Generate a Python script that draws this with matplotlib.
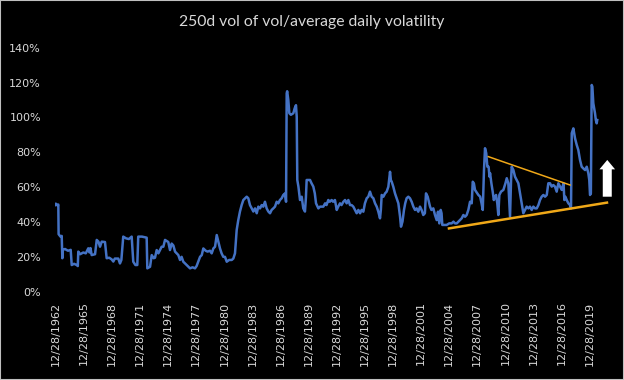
import matplotlib
matplotlib.use('Agg')
import matplotlib.pyplot as plt
from matplotlib.patches import FancyArrow, Rectangle

# series: x in decimal years, y in percent
years = [1962.95, 1963.0, 1963.2, 1963.27, 1963.3, 1963.5, 1963.63, 1963.7, 1963.75, 1963.98,
         1964.3, 1964.59, 1964.7, 1964.95, 1965.23, 1965.35, 1965.4, 1965.6, 1965.94, 1966.2,
         1966.47, 1966.6, 1966.7, 1966.83, 1967.19, 1967.37, 1967.55, 1967.72, 1967.9, 1968.25,
         1968.43, 1968.7, 1968.97, 1969.14, 1969.3, 1969.67, 1969.85, 1970.0, 1970.2, 1970.5,
         1970.8, 1971.1, 1971.27, 1971.5, 1971.7, 1971.8, 1972.2, 1972.7, 1972.77, 1973.06,
         1973.24, 1973.45, 1973.59, 1973.77, 1973.95, 1974.12, 1974.3, 1974.48, 1974.66, 1975.01,
         1975.19, 1975.37, 1975.55, 1975.73, 1976.08, 1976.26, 1976.43, 1976.61, 1976.97, 1977.33,
         1977.6, 1977.86, 1978.03, 1978.21, 1978.4, 1978.58, 1978.75, 1979.0, 1979.2, 1979.46,
         1979.64, 1979.82, 1980.0, 1980.18, 1980.35, 1980.53, 1980.7, 1980.88, 1981.06, 1981.25,
         1981.5, 1981.78, 1981.95, 1982.13, 1982.31, 1982.48, 1982.66, 1982.84, 1983.02, 1983.38,
         1983.55, 1983.73, 1983.91, 1984.09, 1984.27, 1984.45, 1984.62, 1984.8, 1984.98, 1985.15,
         1985.33, 1985.51, 1985.69, 1985.87, 1986.04, 1986.22, 1986.4, 1986.58, 1986.75, 1986.93,
         1987.11, 1987.29, 1987.47, 1987.58, 1987.65, 1987.7, 1987.82, 1987.93, 1988.1, 1988.36,
         1988.5, 1988.64, 1988.72, 1988.78, 1988.9, 1989.07, 1989.25, 1989.42, 1989.6, 1989.7,
         1989.78, 1990.14, 1990.3, 1990.49, 1990.65, 1990.78, 1991.03, 1991.21, 1991.4, 1991.56,
         1991.75, 1991.9, 1992.09, 1992.25, 1992.45, 1992.6, 1992.8, 1992.99, 1993.15, 1993.34,
         1993.5, 1993.7, 1993.88, 1994.05, 1994.23, 1994.41, 1994.58, 1994.76, 1994.94, 1995.12,
         1995.3, 1995.48, 1995.65, 1995.83, 1996.0, 1996.19, 1996.36, 1996.54, 1996.72, 1996.9,
         1997.08, 1997.26, 1997.43, 1997.61, 1997.7, 1997.79, 1997.97, 1998.15, 1998.32, 1998.5,
         1998.68, 1998.77, 1998.86, 1999.03, 1999.21, 1999.39, 1999.57, 1999.75, 1999.85, 2000.01,
         2000.17, 2000.3, 2000.45, 2000.63, 2000.81, 2000.99, 2001.17, 2001.35, 2001.52, 2001.7,
         2001.88, 2002.05, 2002.23, 2002.4, 2002.52, 2002.7, 2002.95, 2003.1, 2003.3, 2003.48,
         2003.66, 2003.8, 2003.94, 2004.09, 2004.18, 2004.26, 2004.73, 2005.0, 2005.26, 2005.45,
         2005.62, 2005.8, 2005.98, 2006.15, 2006.33, 2006.51, 2006.69, 2006.86, 2007.04, 2007.22,
         2007.4, 2007.51, 2007.63, 2007.75, 2008.11, 2008.3, 2008.45, 2008.58, 2008.71, 2008.82,
         2008.95, 2009.07, 2009.2, 2009.3, 2009.36, 2009.5, 2009.64, 2009.76, 2009.89, 2010.0,
         2010.13, 2010.24, 2010.35, 2010.53, 2010.78, 2011.0, 2011.14, 2011.31, 2011.49, 2011.6,
         2011.67, 2011.85, 2012.02, 2012.2, 2012.38, 2012.56, 2012.74, 2012.91, 2013.09, 2013.27,
         2013.45, 2013.62, 2013.8, 2013.98, 2014.16, 2014.34, 2014.52, 2014.69, 2014.87, 2015.05,
         2015.23, 2015.41, 2015.58, 2015.76, 2015.94, 2016.11, 2016.29, 2016.47, 2016.65, 2016.83,
         2017.01, 2017.2, 2017.29, 2017.4, 2017.54, 2017.72, 2017.9, 2018.0, 2018.08, 2018.25,
         2018.43, 2018.61, 2018.78, 2018.96, 2019.14, 2019.32, 2019.5, 2019.68, 2019.85, 2019.95,
         2020.03, 2020.12, 2020.21, 2020.28, 2020.38, 2020.56, 2020.65, 2020.74, 2020.8]
values = [49.7, 50.5, 49.5, 50, 33, 31.6, 32, 19.2, 24, 24.5,
          23.5, 24, 15.3, 16, 15.3, 14.7, 23, 21.5, 22.5, 22,
          24.9, 22.5, 25, 21, 21.5, 29.7, 28.7, 25.8, 28.7, 28.5,
          19.2, 19.5, 18.5, 17.3, 19, 19, 16.2, 18.2, 31.6, 30.6,
          30.2, 31.6, 17.2, 15.3, 15.3, 31.6, 31.6, 31, 13.4, 14.3,
          21, 19.2, 19.5, 23.9, 22, 23.9, 25.8, 25.8, 29.7, 28.5,
          23.9, 27.6, 26.5, 23, 21, 18.2, 20, 17.2, 15.3, 13.4,
          14, 13.4, 14.7, 17.2, 20, 21, 24.8, 23.5, 23, 23.5,
          22, 24.8, 25.8, 32.5, 28.7, 24.8, 22, 20, 20, 17.2,
          18.2, 18.2, 19, 22, 35.4, 41.1, 46, 49.7, 52.6, 54.5,
          53.6, 49.7, 47.8, 46, 47.8, 45, 48.8, 47.8, 49.7, 48.8,
          51.6, 47.8, 46, 45, 46.9, 47.8, 48.8, 51.6, 50.7, 52.6,
          53.6, 55.5, 56.4, 51.6, 113.8, 115, 110, 102.4, 101.5, 102.4,
          105.2, 107, 100.4, 64.1, 60.3, 52.6, 54.5, 47.8, 46, 54,
          64.1, 64.1, 62.2, 60.3, 56.4, 50.7, 47.8, 48.8, 48.8, 48.8,
          50.7, 49.7, 52.6, 51.6, 52.6, 51.6, 52.6, 46.9, 48.8, 50.7,
          49.7, 51.6, 52.6, 50.7, 52.6, 49.7, 49.7, 48.8, 46.9, 45,
          46.9, 45, 46.9, 45.9, 50.7, 53.6, 54.5, 57.4, 54.5, 53.6,
          50.7, 48.8, 45.9, 42.1, 46.9, 55.5, 54.5, 56.4, 57.4, 60.2,
          68.8, 64, 63.1, 60.2, 56.4, 53.6, 50.7, 43, 37.3, 40.2,
          46.9, 50.7, 53.6, 54.5, 53.6, 51.6, 48.8, 46.9, 47.8, 45.9,
          48.8, 46.9, 44, 45, 56.4, 54.5, 48.8, 46.9, 47.8, 44,
          41.1, 45.9, 39.2, 46.9, 45, 38.3, 38.3, 39.2, 39.2, 40.2,
          39.2, 39.2, 40.2, 41.1, 42.1, 44, 43, 44, 46.9, 51.6,
          50.7, 63.1, 62.2, 58.4, 55.5, 54.5, 50.7, 46.9, 69.8, 82.3,
          79.5, 71.7, 71.7, 66, 68, 62.2, 57.4, 52.6, 54.5, 55.5,
          50.7, 44, 55.5, 57.4, 58.4, 62.2, 65.1, 62.2, 43, 64.1,
          71.7, 69.8, 66, 64.1, 62.2, 56.4, 50.7, 45, 46.9, 48.8,
          47.8, 48.8, 46.9, 48.8, 47.8, 47.8, 49.7, 52.6, 54.5, 55.5,
          54.5, 55.5, 62.2, 62.2, 60.3, 61.2, 60.3, 57.4, 62.2, 60.3,
          58.4, 62.2, 52.6, 54.5, 52.6, 50.7, 49.7, 47.8, 90.9, 93.7,
          88, 84.2, 81.3, 75.6, 71.7, 70.7, 69.8, 71.7, 67.9, 64.1,
          55.5, 56.4, 118.6, 117.6, 108.1, 102.4, 98.5, 96.6, 98.5]

tick_years = list(range(1962, 2020, 3))
tick_labels = ['12/28/%d' % y for y in tick_years]
y_ticks = list(range(0, 141, 20))

# hand-drawn trend lines
upper_x = [2009.17, 2017.9]
upper_y = [77.5, 61.2]
lower_x = [2004.97, 2021.84]
lower_y = [36.3, 51.1]

BLUE = '#4472C4'
ORANGE = '#F0A818'
TXT = '#D9D9D9'

fig = plt.figure(figsize=(6.24, 3.80), dpi=100, facecolor='black')
ax = fig.add_axes([54.86 / 624, 0.2324, (614.1 - 54.86) / 624, 0.6421])
ax.set_facecolor('black')

ax.plot(years, values, color=BLUE, lw=1.8, solid_joinstyle='round')
ax.plot(upper_x, upper_y, color=ORANGE, lw=1.1, clip_on=False)
ax.plot(lower_x, lower_y, color=ORANGE, lw=1.8, clip_on=False)

# white up arrow at the right edge
ax.add_patch(FancyArrow(2021.87, 54.5, 0, 21.1, width=0.96, head_width=1.67, head_length=5.4,
                        length_includes_head=True, color='white', lw=0, clip_on=False))

ax.set_xlim(1962.9, 2022.6)
ax.set_ylim(0, 140)
ax.set_xticks([y + 362 / 365 for y in tick_years])
ax.set_xticklabels(tick_labels, rotation=90, fontsize=8, color=TXT)
ax.set_yticks(y_ticks)
ax.set_yticklabels(['%d%%' % v for v in y_ticks], fontsize=8, color=TXT)
ax.tick_params(axis='both', length=0)
ax.tick_params(axis='x', pad=7)
ax.tick_params(axis='y', pad=10)
for s in ax.spines.values():
    s.set_visible(False)

fig.text(0.5, 0.943, '250d vol of vol/average daily volatility', ha='center', va='center',
         color=TXT, fontsize=11.3, family='Lato')

fig.patches.append(Rectangle((0, 0), 1, 1, transform=fig.transFigure, fill=False,
                             edgecolor='#BFBFBF', lw=1.5))

fig.savefig('out.png', dpi=100, facecolor='black')
